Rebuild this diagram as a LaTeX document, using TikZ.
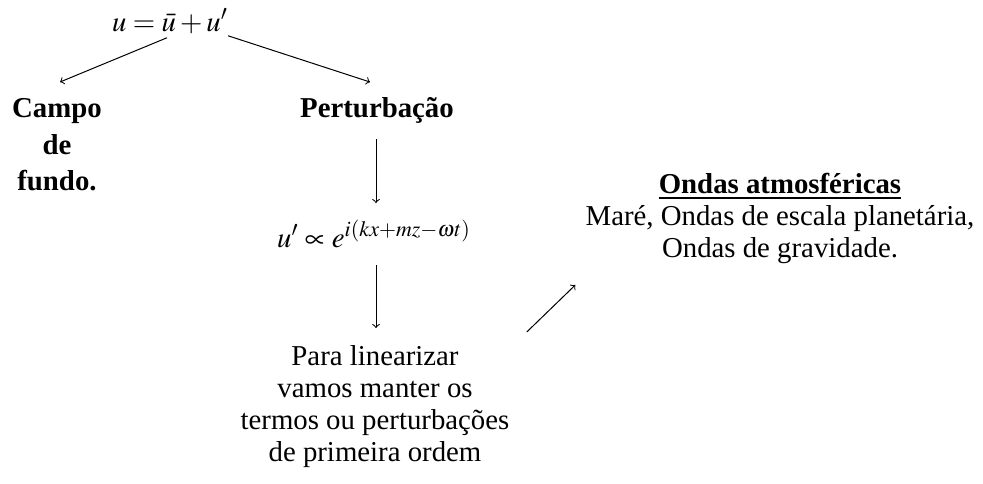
\documentclass[tikz,border=0pt]{standalone}
\usepackage{mathptmx}
\usepackage{fontspec}
\setmainfont{Liberation Serif}
\begin{document}
\begin{tikzpicture}[x=0.5pt,y=-0.5pt,
  txt/.style={inner sep=0pt,font=\fontsize{14.4}{16}\selectfont},
  bld/.style={inner sep=0pt,font=\fontsize{14.4}{18.3}\selectfont\bfseries},
  arr/.style={->,line width=0.5pt}]
\useasboundingbox (0,0) rectangle (983,483);
\node[txt,anchor=base] (eq) at (170,31) {$u=\bar{u}+u'$};
\node[bld,anchor=north,align=center] (campo) at (57,98) {Campo\\de\\fundo.};
\node[bld,anchor=base] (pert) at (377,117) {Perturbação};
\node[txt,anchor=base] (exp) at (374,247) {$u'\propto e^{i(kx+mz-\omega t)}$};
\node[txt,anchor=north,align=center] (para) at (375,345) {Para linearizar\\vamos manter os\\termos ou perturbações\\de primeira ordem};
\node[txt,anchor=north,align=center] (ondas) at (780,173) {\underline{\textbf{Ondas atmosféricas}}\\Maré, Ondas de escala planetária,\\Ondas de gravidade.};
\draw[arr] ([shift={(-3,4)}]eq.south) -- ([shift={(3,-16)}]campo.north);
\draw[arr] ([shift={(58,2)}]eq.south) -- ([shift={(-7,-35)}]pert.base);
\draw[arr] ([shift={(-1,22)}]pert.base) -- ([shift={(2,-44)}]exp.base);
\draw[arr] ([shift={(2,18)}]exp.base) -- ([shift={(1,-17)}]para.north);
\draw[arr] ([shift={(17,-13)}]para.north east) -- ([shift={(-10,112)}]ondas.north west);
\end{tikzpicture}
\end{document}
